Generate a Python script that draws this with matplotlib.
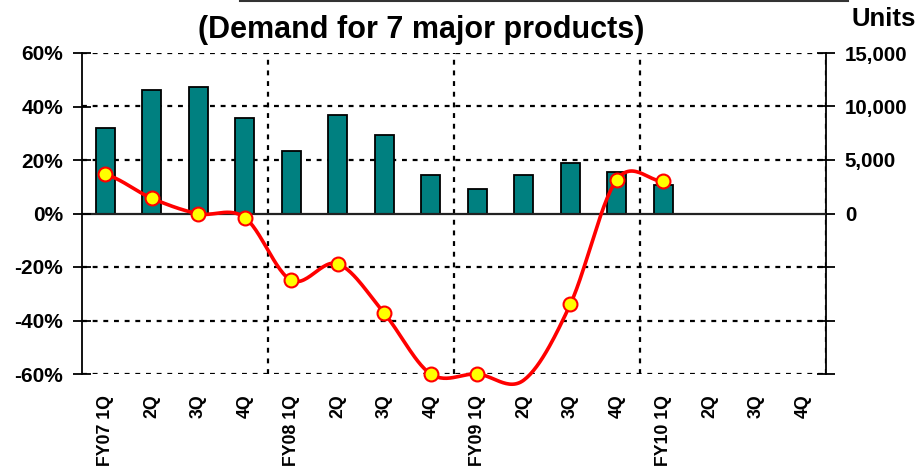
import numpy as np
import matplotlib
matplotlib.use("Agg")
import matplotlib.pyplot as plt
from matplotlib.lines import Line2D

plt.rcParams['font.family'] = ['Liberation Sans', 'DejaVu Sans']
plt.rcParams['font.weight'] = 'bold'

categories = ["FY07 1Q", "2Q", "3Q", "4Q",
              "FY08 1Q", "2Q", "3Q", "4Q",
              "FY09 1Q", "2Q", "3Q", "4Q",
              "FY10 1Q", "2Q", "3Q", "4Q"]
units = [7970, 11500, 11800, 8900, 5860, 9220, 7290, 3620,
         2310, 3620, 4700, 3860, 2620]
growth_pct = [14.6, 5.7, -0.1, -1.5, -25.0, -18.8, -37.3, -60.0,
              -60.0, -62.3, -34.0, 12.6, 12.0]
left_ticks = [-60, -40, -20, 0, 20, 40, 60]
left_labels = ["-60%", "-40%", "-20%", "0%", "20%", "40%", "60%"]
right_ticks = [-15000, -10000, -5000, 0, 5000, 10000, 15000]
right_labels = ["", "", "", "0", "5,000", "10,000", "15,000"]
title = "(Demand for 7 major products)"

W, H = 917, 470
fig = plt.figure(figsize=(W / 100, H / 100), dpi=100)
ax = fig.add_axes([82 / W, 1 - 374 / H, (826 - 82) / W, (374 - 53) / H])

n = len(categories)
xb = np.arange(len(units))
ax.set_xlim(-0.5, n - 0.5)
ax.set_ylim(-15000, 15000)

dash = (0, (2.2, 2.6))
for t in right_ticks:
    if t != 0:
        ax.axhline(t, color='black', lw=1.6, linestyle=dash, zorder=0)
for b in [3.5, 7.5, 11.5, 15.5]:
    ax.axvline(b, color='black', lw=1.6, linestyle=dash, zorder=0)

ax.bar(xb, units, width=0.41, color='#008080', edgecolor='black',
       linewidth=1.3, zorder=2)
ax.axhline(0, color='#222222', lw=1.6, zorder=3)

ax.set_xticks(np.arange(n))
ax.set_xticklabels(categories, rotation=90, fontsize=12.8, fontweight='bold',
                   va='top', ha='center')
ax.tick_params(axis='x', length=0, pad=15)
for s in ['top', 'bottom', 'left']:
    ax.spines[s].set_visible(False)
ax.spines['right'].set_linewidth(1.3)

axl = ax.twinx()
# twinx moves the original y ticks to the left; restore: units on the right
ax.yaxis.tick_right()
ax.yaxis.set_label_position('right')
ax.set_yticks(right_ticks)
ax.set_yticklabels(right_labels, fontsize=14.8, fontweight='bold')
ax.tick_params(axis='y', which='both', direction='inout', length=13,
               width=1.3, pad=7, left=False, labelleft=False,
               right=True, labelright=True)

axl.yaxis.tick_left()
axl.set_ylim(-60, 60)
axl.set_yticks(left_ticks)
axl.set_yticklabels(left_labels, fontsize=15, fontweight='bold')
axl.tick_params(axis='y', direction='inout', length=13, width=1.3, pad=7,
                right=False, labelright=False)
for s in ['top', 'bottom', 'right']:
    axl.spines[s].set_visible(False)
axl.spines['left'].set_linewidth(1.3)

# smooth line (Excel-like Bezier smoothing)
P = np.array(growth_pct, dtype=float)
m = len(P)
xs, ys = [], []
tt = np.linspace(0, 1, 30)
for i in range(m - 1):
    p0 = P[i]
    p3 = P[i + 1]
    pm = P[i - 1] if i > 0 else P[i]
    pp = P[i + 2] if i + 2 < m else P[i + 1]
    c1 = p0 + (p3 - pm) / 6
    c2 = p3 - (pp - p0) / 6
    y = (1 - tt) ** 3 * p0 + 3 * (1 - tt) ** 2 * tt * c1 + 3 * (1 - tt) * tt ** 2 * c2 + tt ** 3 * p3
    xs.extend(i + tt)
    ys.extend(y)
axl.plot(xs, ys, color='#FF0000', lw=2.6, zorder=4, clip_on=False)
mask = P >= -60.5
axl.plot(np.arange(m)[mask], P[mask], linestyle='none', marker='o',
         markersize=10, markerfacecolor='#FFFF00', markeredgecolor='#FF0000',
         markeredgewidth=1.5, zorder=5, clip_on=False)

fig.text(421 / W, 1 - 30 / H, title, ha='center', va='center',
         fontsize=22, fontweight='bold')
fig.text(884 / W, 1 - 19 / H, "Units", ha='center', va='center',
         fontsize=18.5, fontweight='bold')
fig.add_artist(Line2D([240 / W, 848 / W], [1 - 1 / H, 1 - 1 / H],
                      color='#333333', lw=1.5))

fig.savefig("out.png", dpi=100)
